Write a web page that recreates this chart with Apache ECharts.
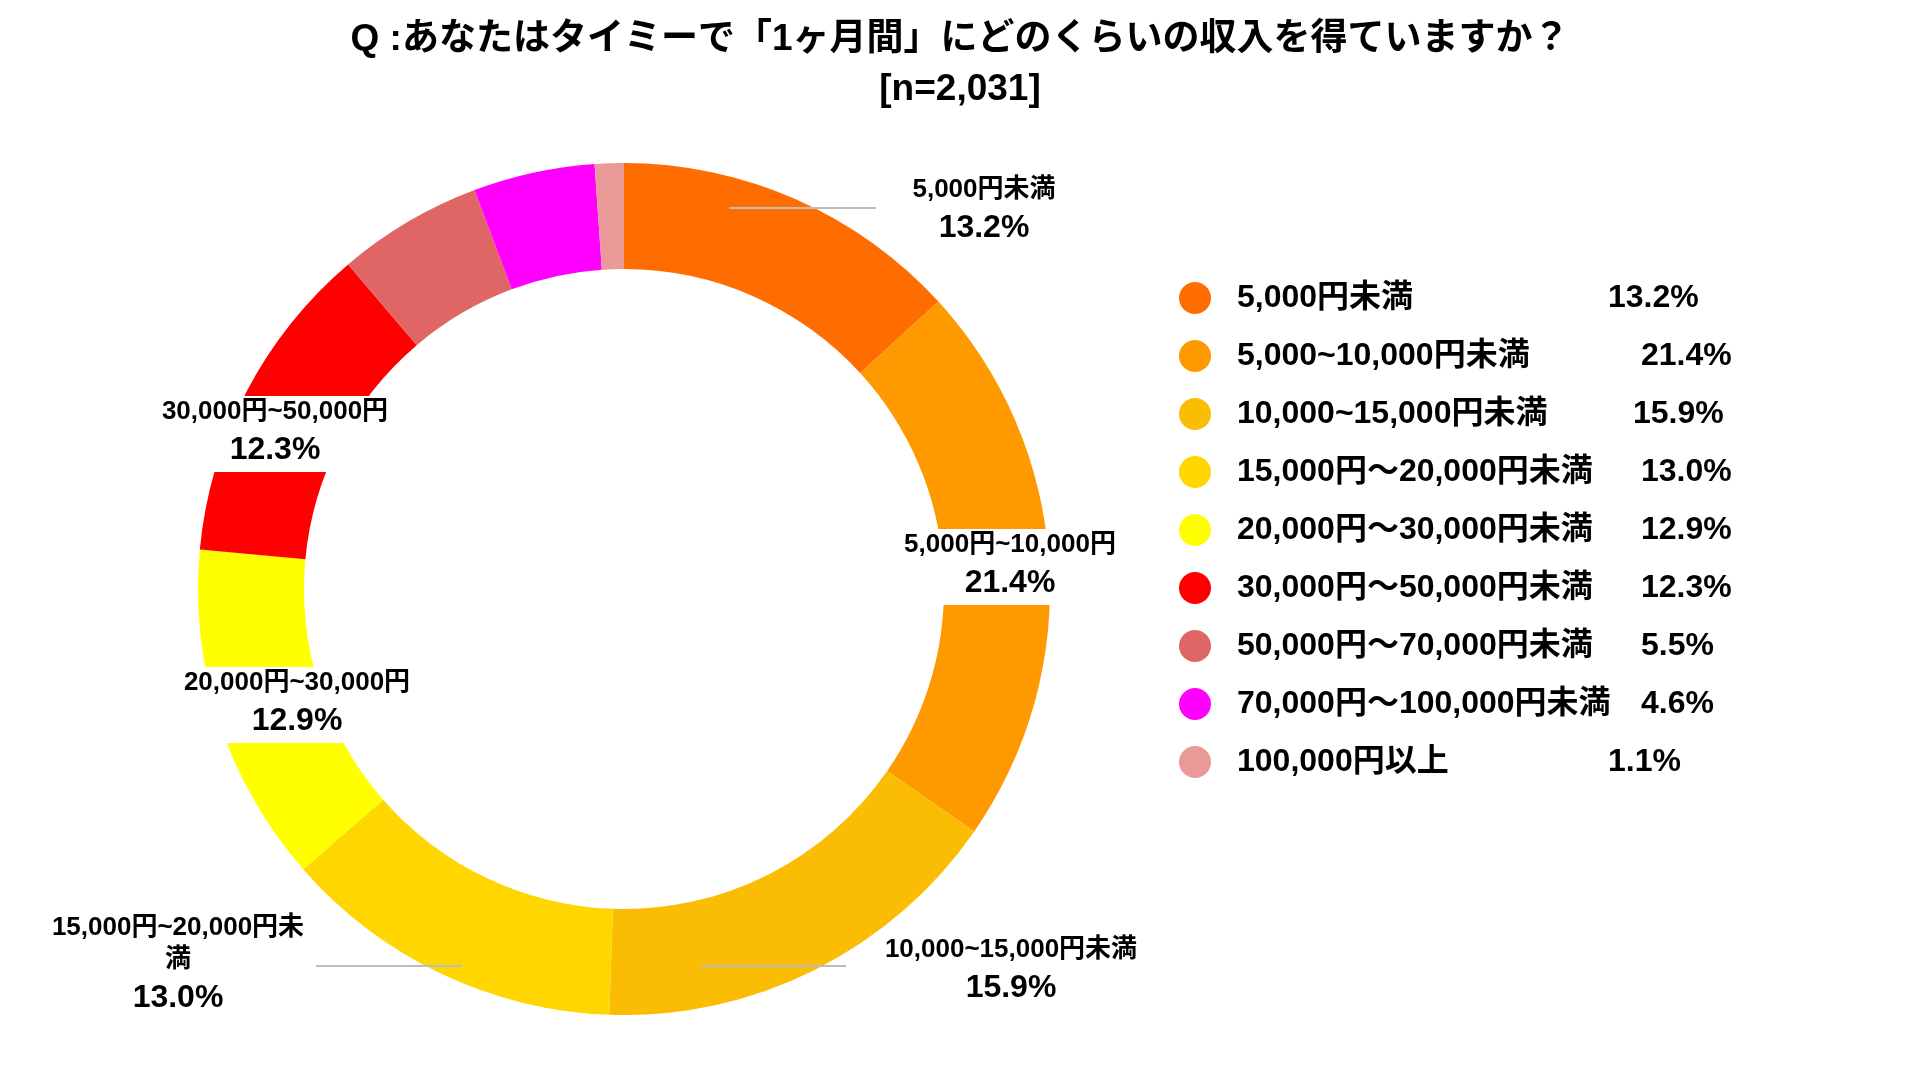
<!DOCTYPE html>
<html>
<head>
<meta charset="utf-8">
<title>タイミー 1ヶ月間の収入</title>
<script src="https://cdn.jsdelivr.net/npm/echarts@6/dist/echarts.min.js"></script>
<style>
  html, body { margin: 0; background: #fff; }
  #main { width: 1920px; height: 1080px; }
</style>
</head>
<body>
<div id="main"></div>
<script>
// legend names, labels on the ring, shares (%)
const categories = [
  '5,000円未満',
  '5,000~10,000円未満',
  '10,000~15,000円未満',
  '15,000円～20,000円未満',
  '20,000円～30,000円未満',
  '30,000円～50,000円未満',
  '50,000円～70,000円未満',
  '70,000円～100,000円未満',
  '100,000円以上'
];
const labelNames = [
  '5,000円未満',
  '5,000円~10,000円',
  '10,000~15,000円未満',
  '15,000円~20,000円未\n満',
  '20,000円~30,000円',
  '30,000円~50,000円',
  '', '', ''
];
const shares = [13.2, 21.4, 15.9, 13.0, 12.9, 12.3, 5.5, 4.6, 1.1];

const colors = ['#ff6d01', '#ff9900', '#fbbc04', '#ffd600', '#ffff00',
                '#ff0000', '#e06666', '#ff00ff', '#ea9999'];

const FONT = '"Liberation Sans", Arial, "Noto Sans CJK JP", sans-serif';

// label block (top centre) and optional leader line, in px
const labelSpots = [
  { x: 984, y: 174, line: [729, 876, 208] },
  { x: 1010, y: 529, box: true },
  { x: 1011, y: 934, line: [701, 846, 966] },
  { x: 178, y: 912, line: [316, 462, 966] },
  { x: 297, y: 667, box: true },
  { x: 275, y: 396, box: true },
  null, null, null
];

// legend percentage column offsets (text is hand spaced in the original)
const legendKey = ['n0', 'n', 'n2', 'n', 'n', 'n', 'n', 'n', 'n0'];

let myChart = echarts.init(document.getElementById('main'));

let data = categories.map((name, i) => ({
  name: name,
  value: shares[i],
  itemStyle: { color: colors[i] },
  label: {
    show: !!labelSpots[i],
    backgroundColor: labelSpots[i] && labelSpots[i].box ? '#fff' : 'transparent',
    padding: [0, 6]
  }
}));

// grey leader lines, drawn on top of the ring
let leaders = labelSpots.filter(s => s && s.line).map(s => ({
  type: 'line',
  z: 100,
  shape: { x1: s.line[0], y1: s.line[2], x2: s.line[1], y2: s.line[2] },
  style: { stroke: '#bdbdbd', lineWidth: 2 },
  silent: true
}));

let legendText = { fontFamily: FONT, fontSize: 32, fontWeight: 'bold', color: '#000', lineHeight: 32 };

let option = {
  backgroundColor: '#fff',
  animation: false,
  title: {
    text: 'Q :あなたはタイミーで「1ヶ月間」にどのくらいの収入を得ていますか？\n[n=2,031]',
    left: 'center',
    top: 10,
    textStyle: {
      fontFamily: FONT,
      fontSize: 37,
      fontWeight: 'bold',
      color: '#000',
      lineHeight: 50
    }
  },
  legend: {
    orient: 'vertical',
    left: 1174,
    top: 277,
    icon: 'circle',
    itemWidth: 32,
    itemHeight: 32,
    itemGap: 26,
    selectedMode: false,
    data: categories,
    formatter: function (name) {
      let i = categories.indexOf(name);
      return '{' + legendKey[i] + '|' + name + '}{p|' + shares[i].toFixed(1) + '%}';
    },
    textStyle: Object.assign({}, legendText, {
      rich: {
        n: Object.assign({}, legendText, { width: 404, padding: [0, 0, 0, 21] }),
        n0: Object.assign({}, legendText, { width: 371, padding: [0, 0, 0, 21] }),
        n2: Object.assign({}, legendText, { width: 396, padding: [0, 0, 0, 21] }),
        p: legendText
      }
    })
  },
  graphic: leaders,
  series: [{
    type: 'pie',
    center: [624, 589],
    radius: [320, 426],
    startAngle: 90,
    clockwise: true,
    avoidLabelOverlap: false,
    emphasis: { disabled: true },
    label: {
      position: 'outside',
      formatter: function (p) {
        return '{n|' + labelNames[p.dataIndex] + '}\n{p|' + p.value.toFixed(1) + '%}';
      },
      rich: {
        n: { fontFamily: FONT, fontSize: 26, fontWeight: 'bold', color: '#000', lineHeight: 32, align: 'center' },
        p: { fontFamily: FONT, fontSize: 32, fontWeight: 'bold', color: '#000', lineHeight: 44, align: 'center' }
      }
    },
    labelLine: { show: false },
    labelLayout: function (params) {
      let s = labelSpots[params.dataIndex];
      if (!s) return {};
      return { x: s.x, y: s.y, align: 'center', verticalAlign: 'top' };
    },
    data: data
  }]
};

myChart.setOption(option);
</script>
</body>
</html>
